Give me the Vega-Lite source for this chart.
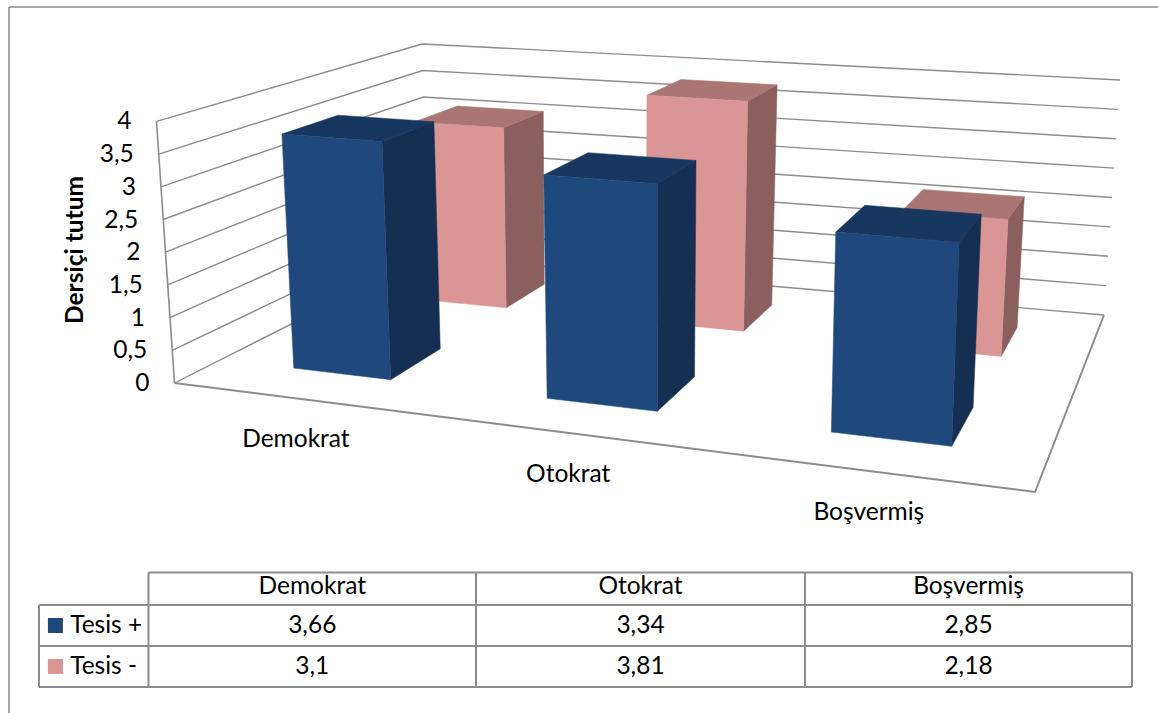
{
  "$schema": "https://vega.github.io/schema/vega-lite/v6.json",
  "width": 1158,
  "height": 713,
  "autosize": {"type": "fit", "contains": "padding"},
  "padding": 0,
  "background": "white",
  "view": {"stroke": null},
  "config": {"text": {"font": "Lato", "fontSize": 24.5, "color": "#000000"}},
  "datasets": {
    "scores": [
      {"category": "Demokrat", "series": "Tesis -", "value": 3.1},
      {"category": "Otokrat", "series": "Tesis -", "value": 3.81},
      {"category": "Boşvermiş", "series": "Tesis -", "value": 2.18},
      {"category": "Demokrat", "series": "Tesis +", "value": 3.66},
      {"category": "Otokrat", "series": "Tesis +", "value": 3.34},
      {"category": "Boşvermiş", "series": "Tesis +", "value": 2.85}
    ],
    "ticks": [
      {"value": 0}, {"value": 0.5}, {"value": 1}, {"value": 1.5}, {"value": 2},
      {"value": 2.5}, {"value": 3}, {"value": 3.5}, {"value": 4}
    ],
    "floorEdge": [
      {"step": 0, "u": 0, "v": 0},
      {"step": 1, "u": 1, "v": 0},
      {"step": 2, "u": 1, "v": 1}
    ],
    "tableColumns": [
      {"col": -1, "from": 1, "to": 3},
      {"col": 0, "from": 0, "to": 3},
      {"col": 1, "from": 0, "to": 3},
      {"col": 2, "from": 0, "to": 3},
      {"col": 3, "from": 0, "to": 3}
    ],
    "tableRows": [
      {"row": 0, "from": 0, "to": 3},
      {"row": 1, "from": -1, "to": 3},
      {"row": 2, "from": -1, "to": 3},
      {"row": 3, "from": -1, "to": 3}
    ]
  },
  "resolve": {"scale": {"x": "independent", "y": "independent"}},
  "layer": [
    {
      "encoding": {
        "x": {"field": "sx", "type": "quantitative", "axis": null, "scale": {"domain": [0, 1158], "range": [0, 1158], "nice": false, "zero": false}},
        "y": {"field": "sy", "type": "quantitative", "axis": null, "scale": {"domain": [0, 713], "range": [0, 713], "nice": false, "zero": false}}
      },
      "layer": [
        {
          "data": {"values": [{"frame": "outer"}]},
          "transform": [
            {"calculate": "9", "as": "sx"},
            {"calculate": "7", "as": "sy"},
            {"calculate": "1158", "as": "ex"},
            {"calculate": "713", "as": "ey"}
          ],
          "layer": [
            {
              "mark": {"type": "rule", "stroke": "#8c8c8c", "strokeWidth": 1.6},
              "encoding": {"x2": {"field": "ex"}}
            },
            {
              "mark": {"type": "rule", "stroke": "#8c8c8c", "strokeWidth": 1.6},
              "encoding": {"y2": {"field": "ey"}}
            }
          ]
        },
        {
          "data": {"name": "ticks"},
          "transform": [
            {"calculate": "[0,1,2]", "as": "corners"},
            {"flatten": ["corners"], "as": ["corner"]},
            {"calculate": "datum.corner==2?1:0", "as": "u"},
            {"calculate": "datum.corner==0?0:1", "as": "v"},
            {"calculate": "datum.value/4", "as": "w"},
            {"calculate": "-0.18644*datum.u+0.28815*datum.v+1", "as": "D"},
            {"calculate": "(667.54*datum.u+374.25*datum.v+174.5)/datum.D", "as": "fx"},
            {"calculate": "(17.27*datum.u-53.23*datum.v+383)/datum.D", "as": "fy"},
            {"calculate": "datum.fx+datum.w*(0.0366*datum.fx-24.4+5*datum.v*(1-datum.u))", "as": "sx"},
            {"calculate": "datum.fy+datum.w*(-0.39*datum.fy-112.2)", "as": "sy"},
            {"calculate": "replace(''+datum.value,'.',',')", "as": "label"}
          ],
          "layer": [
            {
              "mark": {"type": "line", "stroke": "#8c8c8c", "strokeWidth": 1.4},
              "encoding": {"detail": {"field": "value"}, "order": {"field": "corner"}}
            },
            {
              "transform": [{"filter": "datum.corner==0"}],
              "layer": [
                {
                  "mark": {"type": "line", "stroke": "#8c8c8c", "strokeWidth": 1.6},
                  "encoding": {"order": {"field": "value"}}
                },
                {
                  "mark": {"type": "text", "align": "right", "baseline": "middle", "dx": -25, "dy": 1},
                  "encoding": {"text": {"field": "label"}}
                }
              ]
            }
          ]
        },
        {
          "data": {"name": "floorEdge"},
          "transform": [
            {"calculate": "-0.18644*datum.u+0.28815*datum.v+1", "as": "D"},
            {"calculate": "(667.54*datum.u+374.25*datum.v+174.5)/datum.D", "as": "sx"},
            {"calculate": "(17.27*datum.u-53.23*datum.v+383)/datum.D", "as": "sy"}
          ],
          "mark": {"type": "line", "stroke": "#8c8c8c", "strokeWidth": 2},
          "encoding": {"order": {"field": "step"}}
        },
        {
          "data": {"name": "scores"},
          "transform": [
            {"calculate": "indexof(['Demokrat','Otokrat','Boşvermiş'],datum.category)", "as": "i"},
            {"calculate": "[0.172,0.509,0.838][datum.i]", "as": "uc"},
            {"calculate": "[0.067,0.067,0.064][datum.i]", "as": "halfWidth"},
            {"calculate": "datum.uc-datum.halfWidth", "as": "u0"},
            {"calculate": "datum.uc+datum.halfWidth", "as": "u1"},
            {"calculate": "datum.series=='Tesis +'?0.15:0.655", "as": "v0"},
            {"calculate": "datum.v0+0.2", "as": "v1"},
            {"calculate": "datum.value/4", "as": "top"},
            {"calculate": "['side','top','front']", "as": "faces"},
            {"flatten": ["faces"], "as": ["face"]},
            {"calculate": "[0,1,2,3]", "as": "corners"},
            {"flatten": ["corners"], "as": ["corner"]},
            {"calculate": "datum.face=='side'||datum.corner==1||datum.corner==2?datum.u1:datum.u0", "as": "u"},
            {"calculate": "datum.face=='front'?datum.v0:datum.face=='side'?(datum.corner==1||datum.corner==2?datum.v1:datum.v0):(datum.corner<2?datum.v0:datum.v1)", "as": "v"},
            {"calculate": "datum.face=='top'||datum.corner>=2?datum.top:0", "as": "w"},
            {"calculate": "-0.18644*datum.u+0.28815*datum.v+1", "as": "D"},
            {"calculate": "(667.54*datum.u+374.25*datum.v+174.5)/datum.D", "as": "fx"},
            {"calculate": "(17.27*datum.u-53.23*datum.v+383)/datum.D", "as": "fy"},
            {"calculate": "datum.fx+datum.w*(0.0366*datum.fx-24.4+5*datum.v*(1-datum.u))", "as": "sx"},
            {"calculate": "datum.fy+datum.w*(-0.39*datum.fy-112.2)", "as": "sy"},
            {"calculate": "datum.series+' '+datum.face", "as": "shade"}
          ],
          "mark": {"type": "line", "strokeWidth": 0.5, "interpolate": "linear-closed"},
          "encoding": {
            "detail": {"field": "category"},
            "order": {"field": "corner"},
            "fill": {
              "field": "shade", "type": "nominal", "legend": null,
              "scale": {
                "domain": ["Tesis + front", "Tesis + top", "Tesis + side", "Tesis - front", "Tesis - top", "Tesis - side"],
                "range": ["#1f497d", "#17375e", "#152f52", "#d99694", "#a97674", "#8a5f5e"]
              }
            },
            "stroke": {
              "field": "shade", "type": "nominal", "legend": null,
              "scale": {
                "domain": ["Tesis + front", "Tesis + top", "Tesis + side", "Tesis - front", "Tesis - top", "Tesis - side"],
                "range": ["#1f497d", "#17375e", "#152f52", "#d99694", "#a97674", "#8a5f5e"]
              }
            }
          }
        },
        {
          "data": {"name": "scores"},
          "transform": [
            {"filter": "datum.series=='Tesis +'"},
            {"calculate": "[0.168,0.509,0.837][indexof(['Demokrat','Otokrat','Boşvermiş'],datum.category)]", "as": "u"},
            {"calculate": "-0.18644*datum.u+1", "as": "D"},
            {"calculate": "(667.54*datum.u+174.5)/datum.D", "as": "sx"},
            {"calculate": "(17.27*datum.u+383)/datum.D", "as": "sy"}
          ],
          "mark": {"type": "text", "align": "center", "baseline": "middle", "dy": 42},
          "encoding": {"text": {"field": "category"}}
        },
        {
          "data": {"values": [{"title": "Dersiçi tutum"}]},
          "transform": [
            {"calculate": "165", "as": "sx"},
            {"calculate": "250", "as": "sy"}
          ],
          "mark": {"type": "text", "angle": 270, "align": "center", "baseline": "middle", "dy": -89, "fontWeight": "bold"},
          "encoding": {"text": {"field": "title"}}
        }
      ]
    },
    {
      "encoding": {
        "x": {"field": "tx", "type": "quantitative", "axis": null, "scale": {"domain": [-1, 0, 1, 2, 3], "range": [39, 148.5, 476, 805, 1132], "nice": false, "zero": false}},
        "y": {"field": "ty", "type": "quantitative", "axis": null, "scale": {"domain": [0, 1, 2, 3], "range": [572.5, 605, 646, 687], "nice": false, "zero": false}}
      },
      "layer": [
        {
          "data": {"name": "tableColumns"},
          "transform": [{"calculate": "datum.col", "as": "tx"}, {"calculate": "datum.from", "as": "ty"}],
          "mark": {"type": "rule", "stroke": "#8c8c8c", "strokeWidth": 2},
          "encoding": {"y2": {"field": "to"}}
        },
        {
          "data": {"name": "tableRows"},
          "transform": [{"calculate": "datum.from", "as": "tx"}, {"calculate": "datum.row", "as": "ty"}],
          "mark": {"type": "rule", "stroke": "#8c8c8c", "strokeWidth": 2},
          "encoding": {"x2": {"field": "to"}}
        },
        {
          "data": {"name": "scores"},
          "transform": [
            {"calculate": "indexof(['Demokrat','Otokrat','Boşvermiş'],datum.category)+0.5", "as": "tx"},
            {"calculate": "datum.series=='Tesis +'?1.5:2.5", "as": "ty"},
            {"calculate": "replace(''+datum.value,'.',',')", "as": "label"}
          ],
          "mark": {"type": "text", "align": "center", "baseline": "middle"},
          "encoding": {"text": {"field": "label"}}
        },
        {
          "data": {"name": "scores"},
          "transform": [
            {"filter": "datum.series=='Tesis +'"},
            {"calculate": "indexof(['Demokrat','Otokrat','Boşvermiş'],datum.category)+0.5", "as": "tx"},
            {"calculate": "0.45", "as": "ty"}
          ],
          "mark": {"type": "text", "align": "center", "baseline": "middle"},
          "encoding": {"text": {"field": "category"}}
        },
        {
          "data": {"name": "scores"},
          "transform": [
            {"filter": "datum.category=='Demokrat'"},
            {"calculate": "-0.715", "as": "tx"},
            {"calculate": "datum.series=='Tesis +'?1.5:2.5", "as": "ty"}
          ],
          "mark": {"type": "text", "align": "left", "baseline": "middle"},
          "encoding": {"text": {"field": "series"}}
        },
        {
          "data": {"name": "scores"},
          "transform": [
            {"filter": "datum.category=='Demokrat'"},
            {"calculate": "-0.85", "as": "tx"},
            {"calculate": "datum.series=='Tesis +'?1.5:2.5", "as": "ty"}
          ],
          "mark": {"type": "point", "shape": "square", "size": 225, "filled": true, "opacity": 1},
          "encoding": {
            "color": {"field": "series", "type": "nominal", "legend": null, "scale": {"domain": ["Tesis +", "Tesis -"], "range": ["#1f497d", "#d99694"]}}
          }
        }
      ]
    }
  ]
}
